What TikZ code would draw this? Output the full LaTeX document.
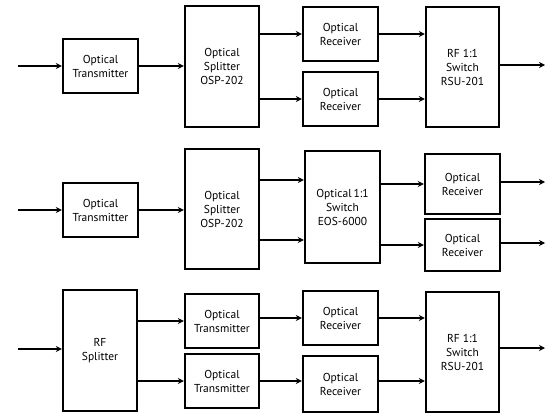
\documentclass[tikz,border=0pt]{standalone}
\usepackage{fontspec}
\setmainfont{PT Sans}
\usetikzlibrary{arrows.meta}
\begin{document}
\begin{tikzpicture}[x=1pt,y=-1pt,
  box/.style={draw, line width=2.4pt, align=center, inner sep=0pt,
    font=\fontsize{11.5}{14}\selectfont},
  arr/.style={line width=2.2pt, -{Stealth[length=6pt,width=6pt]}}]
\useasboundingbox (0,0) rectangle (553,415);
% ---------- top row ----------
\node[box, minimum width=75pt, minimum height=54pt] (t1) at (100.5,66) {Optical\\Transmitter};
\node[box, minimum width=74pt, minimum height=121pt] (s1) at (222,66.5) {Optical\\Splitter\\OSP-202};
\node[box, minimum width=75pt, minimum height=54pt] (r1a) at (340.5,34) {Optical\\Receiver};
\node[box, minimum width=75pt, minimum height=54pt] (r1b) at (340.5,99) {Optical\\Receiver};
\node[box, minimum width=73pt, minimum height=120pt] (w1) at (462.5,67) {RF 1:1\\Switch\\RSU-201};
\coordinate (in1) at (18,66);
\coordinate (out1) at (545,65);
\draw[arr] (in1) -- (t1);
\draw[arr] (t1) -- (s1.west |- t1);
\draw[arr] (s1.east |- r1a) -- (r1a);
\draw[arr] (s1.east |- r1b) -- (r1b);
\draw[arr] (r1a) -- (w1.west |- r1a);
\draw[arr] (r1b) -- (w1.west |- r1b);
\draw[arr] (w1.east |- out1) -- (out1);
% ---------- middle row ----------
\node[box, minimum width=75pt, minimum height=54pt] (t2) at (100.5,210) {Optical\\Transmitter};
\node[box, minimum width=74pt, minimum height=120pt] (s2) at (222,209) {Optical\\Splitter\\OSP-202};
\node[box, minimum width=75pt, minimum height=112pt] (w2) at (342.5,207) {Optical\,1:1\\Switch\\EOS-6000};
\node[box, minimum width=75pt, minimum height=60pt] (r2a) at (462.5,184) {Optical\\Receiver};
\node[box, minimum width=75pt, minimum height=52pt] (r2b) at (462.5,245) {Optical\\Receiver};
\coordinate (in2) at (18,210);
\coordinate (out2a) at (545,182);
\coordinate (out2b) at (545,243);
\draw[arr] (in2) -- (t2);
\draw[arr] (t2) -- (s2.west |- t2);
\draw[arr] (s2.east |- 0,180) -- (w2.west |- 0,180);
\draw[arr] (s2.east |- 0,240) -- (w2.west |- 0,240);
\draw[arr] (w2.east |- r2a) -- (r2a);
\draw[arr] (w2.east |- r2b) -- (r2b);
\draw[arr] (r2a.east |- out2a) -- (out2a);
\draw[arr] (r2b.east |- out2b) -- (out2b);
% ---------- bottom row ----------
\node[box, minimum width=74pt, minimum height=121pt] (s3) at (100,350.5) {RF\\Splitter};
\node[box, minimum width=74pt, minimum height=54pt] (t3a) at (222,321) {Optical\\Transmitter};
\node[box, minimum width=74pt, minimum height=54pt] (t3b) at (222,381) {Optical\\Transmitter};
\node[box, minimum width=75pt, minimum height=54pt] (r3a) at (340.5,318) {Optical\\Receiver};
\node[box, minimum width=75pt, minimum height=56pt] (r3b) at (340.5,384) {Optical\\Receiver};
\node[box, minimum width=73pt, minimum height=120pt] (w3) at (462.5,352) {RF 1:1\\Switch\\RSU-201};
\coordinate (in3) at (18,349);
\coordinate (out3) at (545,348);
\draw[arr] (in3) -- (s3.west |- in3);
\draw[arr] (s3.east |- t3a) -- (t3a);
\draw[arr] (s3.east |- t3b) -- (t3b);
\draw[arr] (t3a.east |- r3a) -- (r3a);
\draw[arr] (t3b.east |- 0,381) -- (r3b.west |- 0,381);
\draw[arr] (r3a) -- (w3.west |- r3a);
\draw[arr] (r3b.east |- 0,381) -- (w3.west |- 0,381);
\draw[arr] (w3.east |- out3) -- (out3);
\end{tikzpicture}
\end{document}
